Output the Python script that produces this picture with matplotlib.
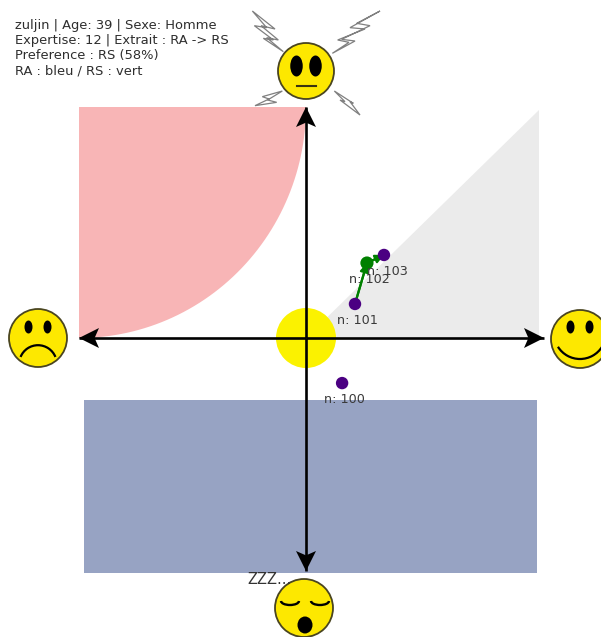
import numpy as np
import matplotlib
matplotlib.use('Agg')
import matplotlib.pyplot as plt
from matplotlib.patches import Circle, Ellipse, Polygon, Rectangle, Arc

# valeurs (1 unite = 230 px, origine au centre des axes)
essais = [100, 101, 102, 103]
valence = [0.157, 0.213, 0.265, 0.339]
activation = [-0.196, 0.148, 0.326, 0.361]
couleurs = ['#4b0082', '#4b0082', '#008000', '#4b0082']
label_dx = [-0.08, -0.08, -0.08, -0.075]
label_dy = [-0.07, -0.07, -0.07, -0.07]

infos = ['zuljin | Age: 39 | Sexe: Homme',
         'Expertise: 12 | Extrait : RA -> RS',
         'Preference : RS (58%)',
         'RA : bleu / RS : vert']

U = 230.0
X0, Y0 = 306.0, 338.0


def px(x, y):
    return (x - X0) / U, (Y0 - y) / U


fig = plt.figure(figsize=(6.01, 6.37), dpi=100)
ax = fig.add_axes([0, 0, 1, 1])
ax.set_xlim((0 - X0) / U, (601 - X0) / U)
ax.set_ylim((Y0 - 637) / U, Y0 / U)
ax.axis('off')

# zones colorees
t = np.linspace(0, np.pi / 2, 60)
cx, cy = px(79, 107)
rx, ry = 227 / U, 231 / U
zone_x = np.concatenate([[cx], cx + rx * np.sin(t)])
zone_y = np.concatenate([[cy], cy - ry * np.cos(t)])
ax.add_patch(Polygon(np.column_stack([zone_x, zone_y]), color='#f8b5b6', lw=0, zorder=1))
ax.add_patch(Polygon([px(306, 338), px(539, 110), px(539, 338)], color='#ebebeb', lw=0, zorder=1))
bx, by = px(84, 573)
ax.add_patch(Rectangle((bx, by), 453 / U, 173 / U, color='#97a3c3', lw=0, zorder=1))
ax.add_patch(Circle((0, 0), 30 / U, color='#fbf200', lw=0, zorder=2))


# axes avec fleches
def fleche(x1, y1, x2, y2):
    ax.plot([x1, x2], [y1, y2], color='black', lw=1.9, zorder=3, solid_capstyle='butt')
    d = np.array([x2 - x1, y2 - y1])
    d = d / np.hypot(*d)
    n = np.array([-d[1], d[0]])
    tip = np.array([x2, y2])
    L, W = 20 / U, 10 / U
    pts = [tip, tip - L * d + W * n, tip - 0.78 * L * d, tip - L * d - W * n]
    ax.add_patch(Polygon(pts, color='black', lw=0, zorder=3))


fleche(*px(306, 338), *px(544, 338))
fleche(*px(306, 338), *px(79, 338))
fleche(*px(306, 338), *px(306, 107))
fleche(*px(306, 338), *px(306, 571))


# smileys
def visage(xp, yp, r=29):
    x, y = px(xp, yp)
    ax.add_patch(Circle((x, y), r / U, fc='#fde800', ec='#4a4520', lw=1.3, zorder=4))
    return x, y


def yeux(x, y, dx, dy, w, h):
    for s in (-1, 1):
        ax.add_patch(Ellipse((x + s * dx / U, y + dy / U), w / U, h / U,
                             color='black', lw=0, zorder=5))


# haut
x, y = visage(306, 71, 28)
yeux(x, y, 9.5, 5, 12.5, 21)
ax.plot([x - 9.5 / U, x + 9.5 / U], [y - 15 / U, y - 15 / U], color='#3a3410', lw=1.5, zorder=5)
# gauche
x, y = visage(38, 338)
yeux(x, y, 9.5, 11, 8, 13)
ax.add_patch(Arc((x, y - 26 / U), 37.6 / U, 37.6 / U, theta1=22, theta2=158, color='black', lw=1.6, zorder=5))
# droite
x, y = visage(580, 339)
yeux(x, y, 9.5, 12, 8, 13)
ax.add_patch(Arc((x, y + 6 / U), 52 / U, 52 / U, theta1=212, theta2=328, color='black', lw=1.6, zorder=5))
# bas
x, y = visage(304, 608)
ax.add_patch(Arc((x - 14 / U, y + 7 / U), 18 / U, 8 / U, theta1=180, theta2=360, color='black', lw=1.7, zorder=5))
ax.add_patch(Arc((x + 16 / U, y + 7 / U), 18 / U, 8 / U, theta1=180, theta2=360, color='black', lw=1.7, zorder=5))
ax.add_patch(Ellipse((x + 1 / U, y - 17 / U), 15 / U, 17 / U, color='black', lw=0, zorder=5))

ax.text(*px(247, 580), 'ZZZ...', fontsize=10.5, color='#333333', va='center', ha='left', zorder=6)

# eclairs (coordonnees du crop 3x autour du visage du haut)
eclairs = [
    [(22, 18), (90, 72), (48, 62), (100, 105), (65, 98), (115, 140), (55, 100), (85, 105), (28, 62), (65, 68), (22, 18)],
    [(405, 18), (315, 68), (360, 72), (278, 105), (312, 112), (262, 145), (330, 108), (290, 103), (375, 62), (335, 55), (405, 18)],
    [(112, 258), (52, 275), (72, 282), (30, 302), (95, 292), (68, 285), (112, 258)],
    [(268, 258), (300, 290), (285, 285), (345, 330), (315, 290), (325, 295), (268, 258)],
]
for e in eclairs:
    pts = [px(245 + a / 3, 5 + b / 3) for a, b in e]
    ax.add_patch(Polygon(pts, fc='white', ec='#808080', lw=0.9, zorder=2))

# trajet
ax.plot(valence[1:3], activation[1:3], color='#008000', lw=1.6, zorder=6)
ax.plot(valence[2:4], activation[2:4], color='#008000', lw=1.6, zorder=6)
ax.annotate('', xy=(valence[2], activation[2]), xytext=(valence[1], activation[1]),
            arrowprops=dict(arrowstyle='-|>,head_length=0.5,head_width=0.25', color='#008000', lw=1.6, shrinkA=0, shrinkB=0), zorder=6)
ax.annotate('', xy=(valence[3], activation[3]), xytext=(valence[2], activation[2]),
            arrowprops=dict(arrowstyle='-|>,head_length=0.5,head_width=0.25', color='#008000', lw=1.6, shrinkA=0, shrinkB=0), zorder=6)
ax.scatter(valence, activation, s=[80, 80, 90, 80], c=couleurs, linewidths=0, zorder=7)
for i in range(len(essais)):
    ax.text(valence[i] + label_dx[i], activation[i] + label_dy[i], 'n: %d' % essais[i],
            fontsize=9.2, color='#3a3a3a', va='center', ha='left', zorder=8)

# infos
for i, ligne in enumerate(infos):
    ax.text(*px(15, 26 + i * 15), ligne, fontsize=9.35, color='#2e2e2e', va='center', ha='left', zorder=8)

fig.savefig('out.png', dpi=100)
